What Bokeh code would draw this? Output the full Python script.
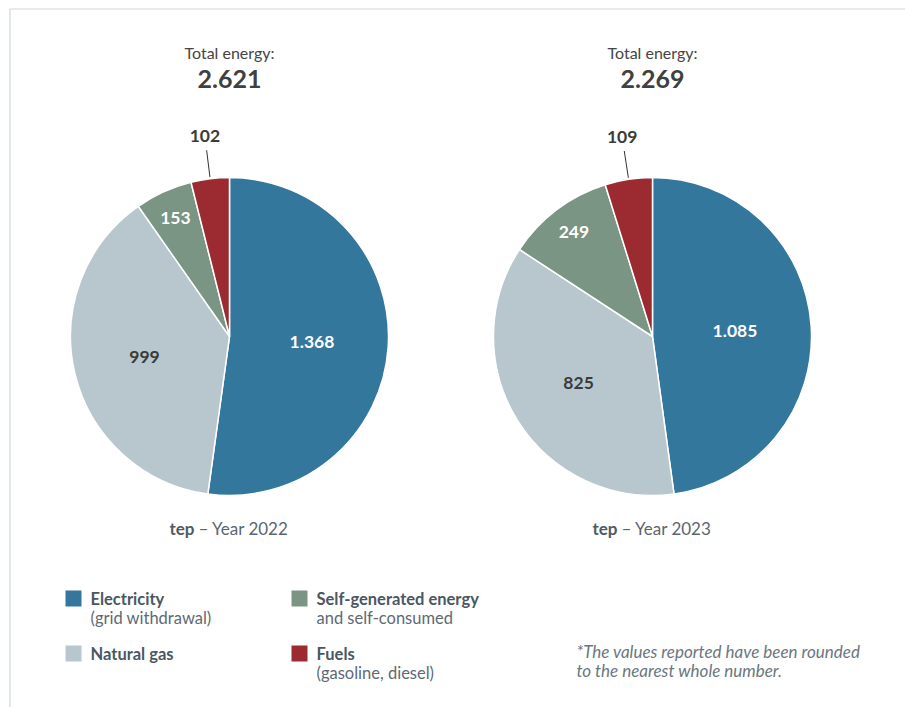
import numpy as np
from bokeh.plotting import figure
from bokeh.models import Range1d, ColumnDataSource
from bokeh.core.properties import value
from bokeh.embed import file_html
from bokeh.resources import INLINE

# ---------------- data ----------------
categories = ["Electricity", "Natural gas", "Self-generated energy", "Fuels"]
legend_sub = ["(grid withdrawal)", "", "and self-consumed", "(gasoline, diesel)"]
years = ["2022", "2023"]
values_2022 = [1368, 999, 153, 102]
values_2023 = [1085, 825, 249, 109]
labels_2022 = ["1.368", "999", "153", "102"]
labels_2023 = ["1.085", "825", "249", "109"]
totals = ["2.621", "2.269"]
colors = ["#34779d", "#b8c7ce", "#7a9583", "#9b2b31"]

# ---------------- style / layout ----------------
FONT = "Lato"
W, H = 905, 707
label_colors = ["white", "#3b3b3b", "white", "#3b3b3b"]
label_r = [0.52, 0.55, 0.82, 1.27]     # radial position of value label (fraction of radius)
outside = [False, False, False, True]
R = 159
centers = [(229, 336), (652, 336)]     # page pixel coordinates

p = figure(width=W, height=H, output_backend="svg", toolbar_location=None,
           x_range=Range1d(0, W), y_range=Range1d(-H, 0),
           min_border=0, outline_line_color=None, background_fill_color="white",
           border_fill_color="white")
p.axis.visible = False
p.grid.visible = False

# frame lines
p.segment(x0=[9.5, 9.5], y0=[-8.5, -8.5], x1=[905, 9.5], y1=[-8.5, -707],
          line_color="#cdd6dc", line_width=1.2)

for (cx, cy), vals, labs, tot, yr in zip(centers, [values_2022, values_2023],
                                          [labels_2022, labels_2023], totals, years):
    v = np.array(vals, dtype=float)
    frac = v / v.sum()
    cum = np.concatenate([[0], np.cumsum(frac)])
    start = np.pi / 2 - cum[1:] * 2 * np.pi
    end = np.pi / 2 - cum[:-1] * 2 * np.pi
    src = ColumnDataSource(dict(start=start, end=end, color=colors))
    p.wedge(x=cx, y=-cy, radius=R, start_angle="start", end_angle="end",
            fill_color="color", line_color="white", line_width=1.5, source=src)

    mid = np.pi / 2 - (cum[:-1] + cum[1:]) * np.pi
    lx = cx + np.array(label_r) * R * np.cos(mid)
    ly = -cy + np.array(label_r) * R * np.sin(mid)
    p.text(x=lx, y=ly, text=labs, text_color=label_colors,
           text_font=value(FONT), text_font_style="bold", text_font_size="17.5px",
           text_align="center", text_baseline="middle")
    for i, o in enumerate(outside):
        if o:
            p.segment(x0=[cx + 1.01 * R * np.cos(mid[i])], y0=[-cy + 1.01 * R * np.sin(mid[i])],
                      x1=[cx + 1.18 * R * np.cos(mid[i])], y1=[-cy + 1.18 * R * np.sin(mid[i])],
                      line_color="#333333", line_width=1)

    # totals
    p.text(x=[cx], y=[-52], text=["Total energy:"], text_color="#454545",
           text_font=value(FONT), text_font_size="16px",
           text_align="center", text_baseline="middle")
    p.text(x=[cx], y=[-78], text=[tot], text_color="#404040",
           text_font=value(FONT), text_font_style="bold", text_font_size="25px",
           text_align="center", text_baseline="middle")
    # caption
    p.text(x=[cx - 35], y=[-528], text=["tep"], text_color="#4e5a64",
           text_font=value(FONT), text_font_style="bold", text_font_size="17px",
           text_align="right", text_baseline="middle")
    p.text(x=[cx - 31], y=[-528], text=["– Year " + yr], text_color="#5a6670",
           text_font=value(FONT), text_font_size="17px",
           text_align="left", text_baseline="middle")

# legend
leg_x = [65, 291, 65, 291]
leg_y = [598, 598, 653, 653]
for slot, i in enumerate([0, 2, 1, 3]):
    x, y = leg_x[slot], leg_y[slot]
    p.rect(x=[x + 8], y=[-y], width=16, height=16, fill_color=colors[i], line_color=None)
    p.text(x=[x + 25], y=[-y], text=[categories[i]], text_color="#4a5763",
           text_font=value(FONT), text_font_style="bold", text_font_size="16.5px",
           text_align="left", text_baseline="middle")
    if legend_sub[i]:
        p.text(x=[x + 25], y=[-y - 19], text=[legend_sub[i]], text_color="#5d6a75",
               text_font=value(FONT), text_font_size="16.5px",
               text_align="left", text_baseline="middle")

# footnote
p.text(x=[576, 576], y=[-651, -670],
       text=["*The values reported have been rounded", "to the nearest whole number."],
       text_color="#6b7681", text_font=value(FONT), text_font_style="italic",
       text_font_size="17px", text_align="left", text_baseline="middle")

open("out.html", "w").write(file_html(p, INLINE))
